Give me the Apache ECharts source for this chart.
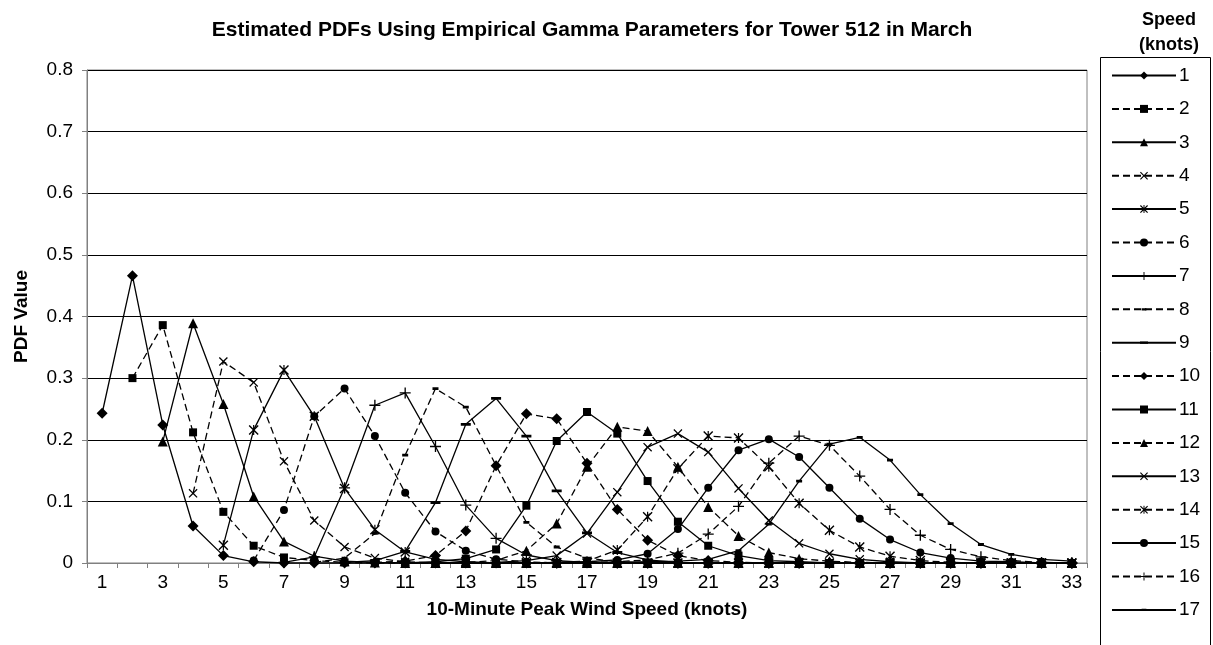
<!DOCTYPE html>
<html>
<head>
<meta charset="utf-8">
<script src="https://cdn.jsdelivr.net/npm/echarts@6/dist/echarts.min.js"></script>
<style>
  html, body { margin: 0; padding: 0; background: #fff; }
  #main { width: 1213px; height: 645px; }
</style>
</head>
<body>
<div id="main"></div>
<script>
// x categories: 10-minute peak wind speed (knots)
var peakSpeeds = [];
for (var k = 1; k <= 33; k++) peakSpeeds.push(String(k));

var yTicks = [0, 0.1, 0.2, 0.3, 0.4, 0.5, 0.6, 0.7, 0.8];

// PDF values per sustained speed, each list starts at peak speed == sustained speed
var speed1 = [0.243, 0.466, 0.224, 0.060, 0.012, 0.002, 0, 0, 0, 0, 0, 0, 0, 0, 0, 0, 0, 0, 0, 0, 0, 0, 0, 0, 0, 0, 0, 0, 0, 0, 0, 0, 0];
var speed2 = [0.300, 0.386, 0.212, 0.083, 0.028, 0.009, 0.004, 0.001, 0, 0, 0, 0, 0, 0, 0, 0, 0, 0, 0, 0, 0, 0, 0, 0, 0, 0, 0, 0, 0, 0, 0, 0];
var speed3 = [0.197, 0.389, 0.258, 0.108, 0.035, 0.011, 0.003, 0.001, 0, 0, 0, 0, 0, 0, 0, 0, 0, 0, 0, 0, 0, 0, 0, 0, 0, 0, 0, 0, 0, 0, 0];
var speed4 = [0.113, 0.327, 0.293, 0.165, 0.069, 0.026, 0.008, 0.002, 0, 0, 0, 0, 0, 0, 0, 0, 0, 0, 0, 0, 0, 0, 0, 0, 0, 0, 0, 0, 0, 0];
var speed5 = [0.029, 0.216, 0.313, 0.238, 0.121, 0.054, 0.018, 0.006, 0.002, 0, 0, 0, 0, 0, 0, 0, 0, 0, 0, 0, 0, 0, 0, 0, 0, 0, 0, 0, 0];
var speed6 = [0.004, 0.086, 0.238, 0.283, 0.206, 0.114, 0.051, 0.020, 0.006, 0.002, 0, 0, 0, 0, 0, 0, 0, 0, 0, 0, 0, 0, 0, 0, 0, 0, 0, 0];
var speed7 = [0.001, 0.010, 0.122, 0.256, 0.276, 0.189, 0.094, 0.040, 0.013, 0.004, 0.001, 0, 0, 0, 0, 0, 0, 0, 0, 0, 0, 0, 0, 0, 0, 0, 0];
var speed8 = [0.001, 0.008, 0.048, 0.175, 0.283, 0.253, 0.158, 0.066, 0.026, 0.008, 0.002, 0, 0, 0, 0, 0, 0, 0, 0, 0, 0, 0, 0, 0, 0, 0];
var speed9 = [0.001, 0.004, 0.019, 0.098, 0.225, 0.267, 0.206, 0.117, 0.049, 0.017, 0.005, 0.001, 0, 0, 0, 0, 0, 0, 0, 0, 0, 0, 0, 0, 0];
var speed10 = [0.001, 0.003, 0.012, 0.052, 0.158, 0.242, 0.234, 0.162, 0.087, 0.037, 0.012, 0.004, 0.001, 0, 0, 0, 0, 0, 0, 0, 0, 0, 0, 0];
var speed11 = [0, 0.002, 0.007, 0.022, 0.093, 0.198, 0.245, 0.210, 0.133, 0.067, 0.028, 0.012, 0.004, 0.002, 0, 0, 0, 0, 0, 0, 0, 0, 0];
var speed12 = [0, 0.001, 0.004, 0.020, 0.064, 0.156, 0.221, 0.214, 0.156, 0.091, 0.044, 0.017, 0.007, 0.003, 0.001, 0, 0, 0, 0, 0, 0, 0];
var speed13 = [0, 0.001, 0.004, 0.012, 0.048, 0.115, 0.188, 0.210, 0.180, 0.121, 0.069, 0.032, 0.015, 0.006, 0.002, 0, 0, 0, 0, 0, 0];
var speed14 = [0, 0, 0.001, 0.003, 0.021, 0.075, 0.153, 0.206, 0.203, 0.156, 0.097, 0.053, 0.026, 0.011, 0.004, 0.001, 0, 0, 0, 0];
var speed15 = [0, 0.001, 0.002, 0.005, 0.015, 0.055, 0.122, 0.183, 0.201, 0.172, 0.122, 0.072, 0.038, 0.017, 0.008, 0.003, 0.002, 0, 0];
var speed16 = [0, 0.001, 0.002, 0.005, 0.016, 0.047, 0.092, 0.162, 0.206, 0.191, 0.141, 0.087, 0.045, 0.022, 0.010, 0.004, 0.001, 0];
var speed17 = [0, 0.001, 0.002, 0.003, 0.006, 0.020, 0.063, 0.133, 0.193, 0.204, 0.167, 0.111, 0.064, 0.030, 0.014, 0.006, 0.003];

var speedLists = [speed1, speed2, speed3, speed4, speed5, speed6, speed7, speed8, speed9,
  speed10, speed11, speed12, speed13, speed14, speed15, speed16, speed17];
var speedNames = ['1', '2', '3', '4', '5', '6', '7', '8', '9', '10', '11', '12', '13', '14', '15', '16', '17'];

// marker shapes, cycled like Excel's default set (9 of them)
var xMark = 'path://M0,1L1,0L5,4L9,0L10,1L6,5L10,9L9,10L5,6L1,10L0,9L4,5Z';
var plusMark = 'path://M4.4,0H5.6V4.4H10V5.6H5.6V10H4.4V5.6H0V4.4H4.4Z';
var starMark = 'path://M0,1L1,0L5,4L9,0L10,1L6,5L10,9L9,10L5,6L1,10L0,9L4,5ZM4.4,0H5.6V10H4.4Z';
// dashes sit inside a 10x10 box (empty corner points) so the legend keeps their shape
var shortDash = 'path://M0,0L0,0ZM10,10L10,10ZM2,3.6H8V6.4H2Z';
var longDash = 'path://M0,0L0,0ZM10,10L10,10ZM0,3.6H10V6.4H0Z';
var markers = [
  { symbol: 'diamond', size: 11 },
  { symbol: 'rect', size: 8 },
  { symbol: 'triangle', size: 10 },
  { symbol: xMark, size: 9 },
  { symbol: starMark, size: 10 },
  { symbol: 'circle', size: 8 },
  { symbol: plusMark, size: 11 },
  { symbol: shortDash, size: 10 },
  { symbol: longDash, size: 10 }
];

var chartDom = document.getElementById('main');
var myChart = echarts.init(chartDom);
var option;

var series = speedLists.map(function (vals, i) {
  var data = [];
  for (var j = 0; j < i; j++) data.push(null);
  data = data.concat(vals);
  var m = markers[i % 9];
  return {
    name: speedNames[i],
    type: 'line',
    data: data,
    symbol: m.symbol,
    symbolSize: m.size,
    showAllSymbol: true,
    connectNulls: false,
    clip: false,
    itemStyle: { color: '#000' },
    lineStyle: { color: '#000', width: 1.3, type: i % 2 === 0 ? 'solid' : [7, 4] },
    emphasis: { disabled: true },
    animation: false
  };
});

option = {
  backgroundColor: '#fff',
  animation: false,
  textStyle: { fontFamily: 'Liberation Sans, Arial, sans-serif' },
  title: [{
    text: 'Estimated PDFs Using Empirical Gamma Parameters for Tower 512 in March',
    left: 587, top: 15, textAlign: 'center',
    textStyle: { fontSize: 21, fontWeight: 'bold', color: '#000' }
  }, {
    text: 'Speed\n(knots)',
    left: 1164, top: 3, textAlign: 'center',
    textStyle: { fontSize: 18, fontWeight: 'bold', color: '#000', lineHeight: 25 }
  }],
  legend: {
    orient: 'vertical',
    left: 1106, top: 61,
    itemWidth: 64, itemHeight: 10,
    itemGap: 14.4,
    selectedMode: false,
    textStyle: { fontSize: 19, color: '#000', lineHeight: 19, padding: [0, 0, 0, -2] },
    data: speedNames
  },
  graphic: [{
    type: 'rect',
    shape: { x: 1100.5, y: 57.5, width: 110, height: 620 },
    style: { fill: null, stroke: '#000', lineWidth: 1 },
    z: 1
  }],
  grid: {
    left: 87, right: 126, top: 70, bottom: 82,
    show: true, borderColor: '#808080', borderWidth: 1
  },
  xAxis: {
    type: 'category',
    data: peakSpeeds,
    boundaryGap: true,
    name: '10-Minute Peak Wind Speed (knots)',
    nameLocation: 'middle',
    nameGap: 37,
    nameTextStyle: { fontSize: 19, fontWeight: 'bold', color: '#000' },
    axisLine: { lineStyle: { color: '#808080', width: 1 } },
    axisTick: { show: true, interval: 0, alignWithLabel: false, length: 5, lineStyle: { color: '#808080' } },
    axisLabel: { interval: 1, fontSize: 19, color: '#000', margin: 10 }
  },
  yAxis: {
    type: 'value',
    min: yTicks[0], max: yTicks[yTicks.length - 1], interval: 0.1,
    name: 'PDF Value',
    nameLocation: 'middle',
    nameGap: 56,
    nameTextStyle: { fontSize: 19, fontWeight: 'bold', color: '#000' },
    axisLine: { show: true, lineStyle: { color: '#808080' } },
    axisTick: { show: true, length: 5, lineStyle: { color: '#808080' } },
    axisLabel: { fontSize: 19, color: '#000', margin: 14 },
    splitLine: { lineStyle: { color: '#000', width: 1 } }
  },
  series: series
};

option && myChart.setOption(option);
</script>
</body>
</html>
